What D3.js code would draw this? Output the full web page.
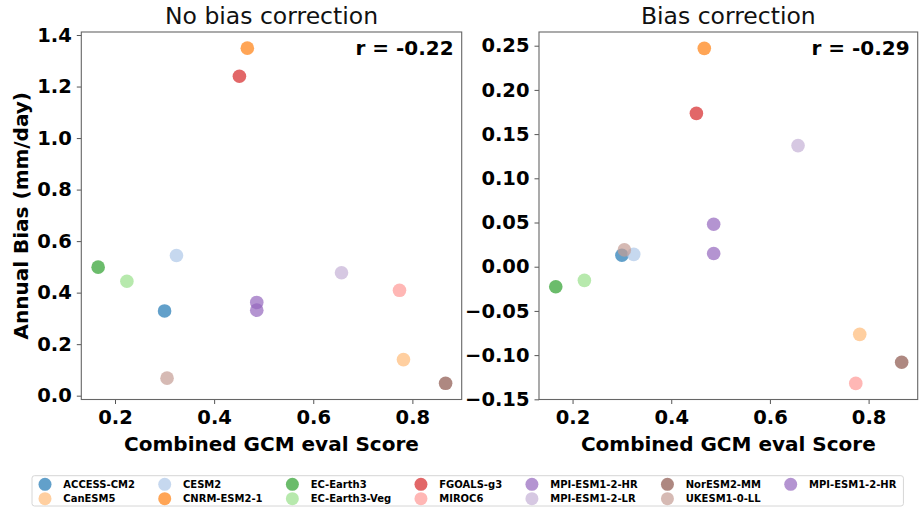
<!DOCTYPE html>
<html>
<head>
<meta charset="utf-8">
<script src="https://cdn.jsdelivr.net/npm/d3@7/dist/d3.min.js"></script>
<style>
  html, body { margin: 0; padding: 0; background: #fff; }
  svg { display: block; font-family: "DejaVu Sans", sans-serif; }
</style>
</head>
<body>
<svg id="chart" width="920" height="508"></svg>
<script>
// GCM models, in plotting order
const models = [
  "ACCESS-CM2", "CanESM5", "CESM2", "CNRM-ESM2-1", "EC-Earth3", "EC-Earth3-Veg",
  "FGOALS-g3", "MIROC6", "MPI-ESM1-2-HR", "MPI-ESM1-2-LR", "NorESM2-MM", "UKESM1-0-LL",
  "MPI-ESM1-2-HR"
];
const modelColors = [
  "#1f77b4", "#ffbb78", "#aec7e8", "#ff7f0e", "#2ca02c", "#98df8a",
  "#d62728", "#ff9896", "#9467bd", "#c5b0d5", "#8c564b", "#c49c94",
  "#9467bd"
];
// Combined GCM evaluation score
const evalScore = [0.300, 0.782, 0.324, 0.467, 0.166, 0.224, 0.451, 0.774, 0.486, 0.657, 0.867, 0.305, 0.486];
// Annual precipitation bias (mm/day), raw GCM output
const biasRaw = [0.329, 0.140, 0.544, 1.349, 0.499, 0.444, 1.240, 0.409, 0.362, 0.477, 0.048, 0.068, 0.332];
// Annual precipitation bias (mm/day), after bias correction
const biasCorrected = [0.013, -0.0765, 0.014, 0.247, -0.0226, -0.0154, 0.1735, -0.132, 0.048, 0.137, -0.108, 0.019, 0.015];

const rawTicks = [0.0, 0.2, 0.4, 0.6, 0.8, 1.0, 1.2, 1.4];
const corrTicks = [-0.15, -0.10, -0.05, 0.00, 0.05, 0.10, 0.15, 0.20, 0.25];
const xTicks = [0.2, 0.4, 0.6, 0.8];

const panels = [
  { title: "No bias correction", values: biasRaw, r: "r = -0.22",
    x0: 81.3, x1: 461.7, yDomain: [-0.0148, 1.4117], ticks: rawTicks, fmt: d3.format(".1f"), yLabel: true },
  { title: "Bias correction", values: biasCorrected, r: "r = -0.29",
    x0: 539, x1: 917.7, yDomain: [-0.1502, 0.2655], ticks: corrTicks, fmt: d => d3.format(".2f")(d).replace("-", "\u2212"), yLabel: false }
];
const plotTop = 32, plotBottom = 399.5;
const xDomain = [0.1320, 0.8995];
const alpha = 0.7;

const svg = d3.select("#chart");

panels.forEach(p => {
  const x = d3.scaleLinear().domain(xDomain).range([p.x0, p.x1]);
  const y = d3.scaleLinear().domain(p.yDomain).range([plotBottom, plotTop]);
  const g = svg.append("g");

  // points
  g.append("g").selectAll("circle")
    .data(models.map((m, i) => ({ m, i })))
    .join("circle")
    .attr("cx", d => x(evalScore[d.i]))
    .attr("cy", d => y(p.values[d.i]))
    .attr("r", 6.8)
    .attr("fill", d => modelColors[d.i])
    .attr("fill-opacity", alpha);

  // axes
  const xAxis = d3.axisBottom(x).tickValues(xTicks).tickFormat(d3.format(".1f")).tickSize(4.5).tickPadding(6);
  const yAxis = d3.axisLeft(y).tickValues(p.ticks).tickFormat(p.fmt).tickSize(4.5).tickPadding(5);
  const gx = g.append("g").attr("transform", `translate(0,${plotBottom})`).call(xAxis);
  const gy = g.append("g").attr("transform", `translate(${p.x0},0)`).call(yAxis);
  [gx, gy].forEach(a => {
    a.select(".domain").remove();
    a.selectAll(".tick line").attr("stroke", "#555").attr("stroke-width", 1);
    a.selectAll(".tick text").attr("fill", "#000").style("font-size", "19.5px").style("font-weight", "bold")
      .style("font-family", "DejaVu Sans");
  });

  // frame
  g.append("rect")
    .attr("x", p.x0).attr("y", plotTop)
    .attr("width", p.x1 - p.x0).attr("height", plotBottom - plotTop)
    .attr("fill", "none").attr("stroke", "#666").attr("stroke-width", 1.1);

  // title
  g.append("text")
    .attr("x", (p.x0 + p.x1) / 2).attr("y", 24)
    .attr("text-anchor", "middle")
    .style("font-size", "23.5px").attr("fill", "#111")
    .text(p.title);

  // correlation annotation
  g.append("text")
    .attr("x", p.x1 - 8).attr("y", 55)
    .attr("text-anchor", "end")
    .style("font-size", "20px").style("font-weight", "bold")
    .text(p.r);

  // x label
  g.append("text")
    .attr("x", (p.x0 + p.x1) / 2).attr("y", 451)
    .attr("text-anchor", "middle")
    .style("font-size", "20px").style("font-weight", "bold")
    .text("Combined GCM eval Score");

  if (p.yLabel) {
    g.append("text")
      .attr("transform", `translate(28,${(plotTop + plotBottom) / 2}) rotate(-90)`)
      .attr("text-anchor", "middle")
      .style("font-size", "20px").style("font-weight", "bold")
      .text("Annual Bias (mm/day)");
  }
});

// legend: 2 rows, filled column by column
const legendRows = 2;
const lg = svg.append("g");
const box = lg.append("rect");
const rowY = [484.3, 498.7];
const legendLeft = 32;
let markerX = legendLeft + 13;
const nCols = Math.ceil(models.length / legendRows);
for (let c = 0; c < nCols; c++) {
  let maxW = 0;
  for (let r = 0; r < legendRows; r++) {
    const i = c * legendRows + r;
    if (i >= models.length) continue;
    lg.append("circle")
      .attr("cx", markerX).attr("cy", rowY[r]).attr("r", 6.5)
      .attr("fill", modelColors[i]).attr("fill-opacity", alpha);
    const t = lg.append("text")
      .attr("x", markerX + 18.3).attr("y", rowY[r] + 3.5)
      .style("font-size", "10px").style("font-weight", "bold")
      .text(models[i]);
    maxW = Math.max(maxW, t.node().getComputedTextLength());
  }
  if (c < nCols - 1) markerX = markerX + 18.3 + maxW + 29.8;
  else markerX = markerX + 18.3 + maxW;
}
box.attr("x", legendLeft).attr("y", 475.7)
  .attr("width", markerX + 7 - legendLeft).attr("height", 30.3)
  .attr("rx", 2.5)
  .attr("fill", "#fff").attr("stroke", "#d6d6d6").attr("stroke-width", 1);
</script>
</body>
</html>
